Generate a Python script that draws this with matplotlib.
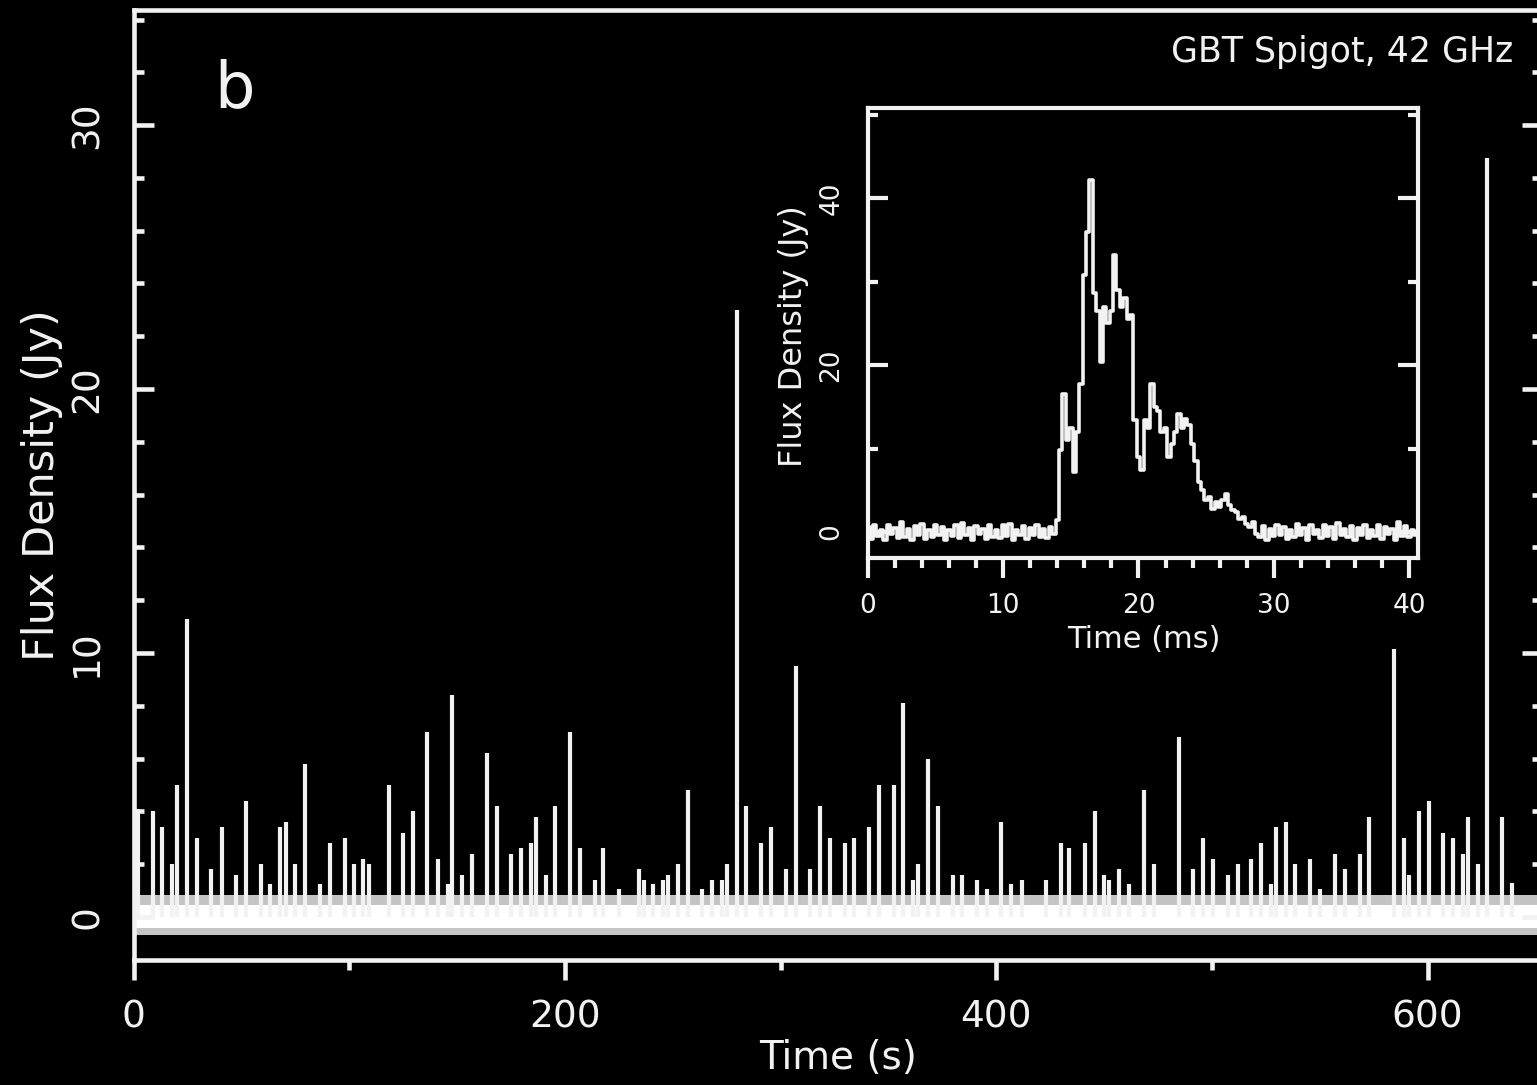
import numpy as np
import matplotlib
matplotlib.use('Agg')
import matplotlib.pyplot as plt
from matplotlib.ticker import MultipleLocator

# single pulses over the whole scan (time in s, peak flux in Jy)
spike_time = [2, 9.0, 13.4, 18, 20.2, 24.8, 29.6, 36.1, 40.8, 47.7,
              52.3, 58.9, 63.5, 68.1, 70.5, 75.1, 79.7, 86.4, 91.0, 98.0,
              102.3, 106.5, 109.0, 118.4, 125.1, 129.4, 136.3, 141.0, 145.6, 147.8,
              152.1, 156.8, 163.7, 168.4, 174.9, 179.5, 184.1, 186.5, 191.1, 195.5,
              202.4, 207.1, 214, 217.5,
              225, 234.2, 236.6, 240.7, 245.4, 247.7, 252.3, 257, 263.7, 268.3,
              273, 275.3, 279.9, 284.1, 291, 295.7, 302.6, 307, 313.6, 318.2,
              322.9, 329.8, 334, 341, 345.6, 352.6, 356.8, 361.4, 363.7, 368.4,
              373, 379.7, 384.3, 391, 395.6, 402.4, 407, 411.7, 423, 429.9,
              433.8,
              441.2, 445.6, 450, 452.3, 457, 461.6, 468.6, 473, 484.5, 491.2,
              495.7, 500.3, 507.3, 511.9, 518.2, 522.9, 527.5, 529.8, 534.5, 538.6,
              545.6, 550.2, 557.2, 561.6, 568.5, 573, 584.3, 589, 591.3, 595.9,
              600.5, 607.2, 611.8, 616.5, 618.7, 623.3, 627.6, 634.6, 639.2]
spike_flux = [4.1, 4.0, 3.4, 2.0, 5.0, 11.3, 3.0, 1.8, 3.4, 1.6,
              4.4, 2.0, 1.25, 3.4, 3.6, 2.0, 5.8, 1.25, 2.8, 3.0,
              2.0, 2.2, 2.0, 5.0, 3.2, 4.0, 7.0, 2.2, 1.25, 8.4,
              1.6, 2.4, 6.2, 4.2, 2.4, 2.6, 2.8, 3.8, 1.6, 4.2,
              7.0, 2.6, 1.4, 2.6,
              1.05, 1.8, 1.4, 1.25, 1.4, 1.6, 2.0, 4.8, 1.05, 1.4,
              1.4, 2.0, 23.0, 4.2, 2.8, 3.4, 1.8, 9.5, 1.8, 4.2,
              3.0, 2.8, 3.0, 3.4, 5.0, 5.0, 8.1, 1.4, 2.0, 6.0,
              4.2, 1.6, 1.6, 1.4, 1.05, 3.6, 1.25, 1.4, 1.4, 2.8,
              2.6,
              2.8, 4.0, 1.6, 1.4, 1.8, 1.25, 4.8, 2.0, 6.8, 1.8,
              3.0, 2.2, 1.6, 2.0, 2.2, 2.8, 1.25, 3.4, 3.6, 2.0,
              2.2, 1.05, 2.4, 1.8, 2.4, 3.8, 10.15, 3.0, 1.6, 4.0,
              4.4, 3.2, 3.0, 2.4, 3.8, 2.0, 28.75, 3.8, 1.3]

# baseline noise band (Jy): solid core and speckled fringe
band_time = [0, 653]
band_core = [-0.40, 0.47]
band_edge = [-0.68, 0.83]

# inset: pulse profile sampled every 0.25 ms
profile_step = 0.25
profile_flux = [0.6, -0.8, 0.9, -0.5, 0.3, -0.9, 0.8, -0.2, 0.5, -0.7,
                1.2, -0.6, 0.4, -0.9, 0.7, -0.3, 1.0, -0.8, 0.2, -0.6,
                0.9, -0.4, 0.6, -1.0, 0.3, -0.5, 0.8, -0.7, 1.1, -0.3,
                0.5, -0.9, 0.7, -0.2, 0.4, -0.8, 0.9, -0.6, 0.3, -0.7,
                0.8, -0.5, 1.0, -0.9, 0.2, -0.4, 0.7, -0.8, 0.5, -0.3,
                0.9, -0.6, 0.4, -0.7, 0.6, -0.2,
                1.5, 9.8, 16.6, 11.0, 12.5, 7.2, 12.0, 17.8, 30.8, 36.0,
                42.2, 28.6, 26.5, 20.4, 27.0, 25.0, 26.5, 33.2, 29.0, 27.0,
                28.0, 25.5, 26.0, 13.4, 9.0, 7.4, 13.4, 12.5, 17.8, 15.0,
                14.5, 12.0, 12.5, 9.0, 10.5, 12.0, 14.2, 12.5, 13.5, 12.8,
                10.5, 8.5, 6.0, 5.0, 3.8, 4.2, 2.8, 3.6, 3.0, 3.8,
                4.6, 3.2, 2.6, 2.4, 1.6, 1.8, 1.0, 0.6, 1.2, -0.2,
                -0.6,
                0.7, -0.9, 0.4, -0.5, 0.9, -0.3, 0.6, -0.8, 0.2, -0.6,
                1.0, -0.4, 0.5, -0.9, 0.8, -0.2, 0.3, -0.7, 0.9, -0.5,
                0.6, -0.8, 1.1, -0.3, 0.4, -0.6, 0.7, -1.0, 0.5, -0.4,
                0.8, -0.7, 0.3, -0.5, 0.9, -0.8, 0.6, -0.2, 0.4, -0.9,
                1.2, -0.5, 0.7, -0.6, 0.3, -0.4]

FG = '#f2f2f2'
W, H = 1537, 1085

fig = plt.figure(figsize=(W / 100, H / 100), dpi=100, facecolor='black')

# main panel -- right edge runs just past the figure, as in the original
ax = fig.add_axes([133.5 / W, (H - 960) / H, (1542 - 133.5) / W, 950 / H])
ax.set_facecolor('black')
ax.fill_between(band_time, band_edge[0], band_edge[1], color='#c4c4c4', lw=0)
ax.fill_between(band_time, band_core[0], band_core[1], color='white', lw=0)
ax.vlines(spike_time, 0, spike_flux, color=FG, lw=3.0)
ax.set_xlim(0, 653)
ax.set_ylim(-1.63, 34.36)

ax.xaxis.set_major_locator(MultipleLocator(200))
ax.xaxis.set_minor_locator(MultipleLocator(100))
ax.yaxis.set_major_locator(MultipleLocator(10))
ax.yaxis.set_minor_locator(MultipleLocator(2))
for s in ax.spines.values():
    s.set_color(FG)
    s.set_linewidth(3.3)
ax.tick_params(axis='x', which='both', direction='out', colors=FG, width=3.3,
               labelsize=27, pad=14, top=False)
ax.tick_params(axis='x', which='major', length=14.5)
ax.tick_params(axis='x', which='minor', length=7.2)
ax.tick_params(axis='y', which='both', direction='in', colors=FG, width=3.3,
               labelsize=27, pad=20, right=True, labelrotation=90)
ax.tick_params(axis='y', which='major', length=14.5)
ax.tick_params(axis='y', which='minor', length=7.2)
for lab in ax.get_yticklabels():
    lab.set_va('center')

ax.set_xlabel('Time (s)', color=FG, fontsize=28)
ax.xaxis.set_label_coords(0.5, -0.103)
ax.xaxis.label.set_va('center')
ax.set_ylabel('Flux Density (Jy)', color=FG, fontsize=31)
ax.yaxis.set_label_coords((42 - 133.5) / 1408.5, 0.5)
ax.yaxis.label.set_va('center')

fig.text(214 / W, 1 - 107 / H, 'b', color=FG, fontsize=46, ha='left', va='baseline')
fig.text(1513 / W, 1 - 52 / H, 'GBT Spigot, 42 GHz', color=FG, fontsize=25,
         ha='right', va='center')

# inset: average pulse profile
axi = fig.add_axes([868 / W, (H - 558) / H, 550 / W, 450 / H])
axi.set_facecolor('black')
prof_t = np.arange(len(profile_flux)) * profile_step
axi.plot(prof_t, profile_flux, color=FG, lw=2.6, drawstyle='steps-mid')
axi.set_xlim(0, 40.67)
axi.set_ylim(-3.1, 50.8)
axi.xaxis.set_major_locator(MultipleLocator(10))
axi.xaxis.set_minor_locator(MultipleLocator(2))
axi.yaxis.set_major_locator(MultipleLocator(20))
axi.yaxis.set_minor_locator(MultipleLocator(10))
for s in axi.spines.values():
    s.set_color(FG)
    s.set_linewidth(3.0)
axi.tick_params(axis='x', which='both', direction='out', colors=FG, width=3.0,
                labelsize=19, pad=11, top=False)
axi.tick_params(axis='x', which='major', length=14.5)
axi.tick_params(axis='x', which='minor', length=7.2)
axi.tick_params(axis='y', which='both', direction='in', colors=FG, width=3.0,
                labelsize=19, pad=17, right=True, labelrotation=90)
axi.tick_params(axis='y', which='major', length=14.5)
axi.tick_params(axis='y', which='minor', length=7.2)
for lab in axi.get_yticklabels():
    lab.set_va('center')
axi.set_xlabel('Time (ms)', color=FG, fontsize=22)
axi.xaxis.set_label_coords(0.502, -0.182)
axi.xaxis.label.set_va('center')
axi.set_ylabel('Flux Density (Jy)', color=FG, fontsize=23)
axi.yaxis.set_label_coords(-0.135, 0.493)
axi.yaxis.label.set_va('center')

fig.savefig('out.png', dpi=100, facecolor='black')
